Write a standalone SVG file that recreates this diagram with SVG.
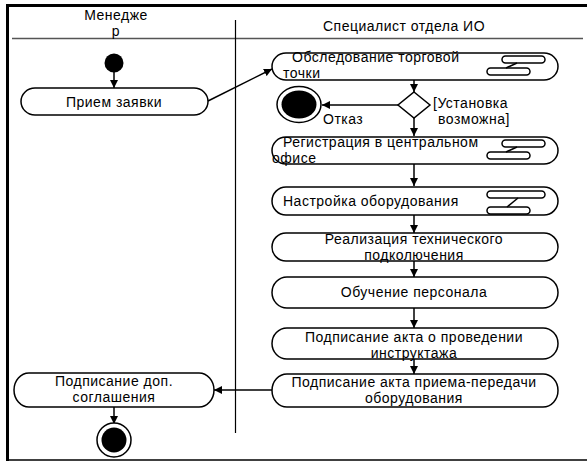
<svg xmlns="http://www.w3.org/2000/svg" width="587" height="462" viewBox="0 0 587 462">
<style>
text{font-family:"Liberation Sans",Arial,sans-serif;font-size:14px;letter-spacing:0.5px;fill:#000}
.n{fill:#fff;stroke:#000;stroke-width:1.5}
.ic{fill:none;stroke:#000;stroke-width:1.5}
.c{stroke:#000;stroke-width:1.5;fill:none;marker-end:url(#a)}
.m{text-anchor:middle}
</style>
<defs>
<marker id="a" viewBox="0 0 10 10" refX="10" refY="5" markerWidth="8" markerHeight="8" orient="auto" markerUnits="userSpaceOnUse">
<path d="M0,0 L10,5 L0,10 Z" fill="#000"/>
</marker>
</defs>
<rect width="587" height="462" fill="#fff"/>
<g id="frame">
<line x1="7.5" y1="4" x2="7.5" y2="461" stroke="#000" stroke-width="3"/>
<line x1="6" y1="5.5" x2="587" y2="5.5" stroke="#000" stroke-width="3"/>
<line x1="6" y1="460" x2="587" y2="460" stroke="#000" stroke-width="1.5"/>
<line x1="12" y1="38.5" x2="583" y2="38.5" stroke="#555" stroke-width="1.5"/>
<line x1="235.5" y1="20" x2="235.5" y2="433" stroke="#000" stroke-width="1.2"/>
<text x="116" y="20" class="m">Менедже</text>
<text x="116" y="36" class="m">р</text>
<text x="404" y="31" class="m">Специалист отдела ИО</text>
</g>
<g id="connectors">
<line class="c" x1="114" y1="72" x2="114" y2="88"/>
<line class="c" x1="208" y1="101" x2="272" y2="69"/>
<line class="c" x1="414" y1="80" x2="414" y2="92"/>
<line class="c" x1="398" y1="105" x2="322" y2="105"/>
<line class="c" x1="414" y1="118" x2="414" y2="136"/>
<line class="c" x1="414" y1="164" x2="414" y2="186"/>
<line class="c" x1="414" y1="215" x2="414" y2="233"/>
<line class="c" x1="414" y1="261" x2="414" y2="277"/>
<line class="c" x1="414" y1="308" x2="414" y2="328"/>
<line class="c" x1="414" y1="359" x2="414" y2="374"/>
<line class="c" x1="272" y1="390" x2="214" y2="390"/>
<line class="c" x1="114" y1="407" x2="114" y2="424"/>
<text x="323" y="124">Отказ</text>
<text x="433" y="108">[Установка</text>
<text x="438" y="124">возможна]</text>
</g>
<g id="start"><circle cx="114" cy="63" r="9.5" fill="#000"/></g>
<g id="priem">
<rect class="n" x="21" y="88" width="187" height="27" rx="14" ry="13.5"/>
<text x="114" y="107" class="m">Прием заявки</text>
</g>
<g id="obsl">
<rect class="n" x="272" y="53" width="286" height="27" rx="14" ry="13.5"/>
<text x="292" y="62">Обследование торговой</text>
<text x="283" y="78">точки</text>
<rect class="ic" x="502" y="56" width="43" height="7" rx="3.5"/>
<rect class="ic" x="487" y="68" width="43" height="7" rx="3.5"/>
<line class="ic" x1="517" y1="63" x2="506" y2="68"/>
</g>
<g id="decision"><polygon class="n" points="414,92 430,105 414,118 398,105"/></g>
<g id="final1">
<ellipse cx="299" cy="104.5" rx="22" ry="18" fill="#fff" stroke="#000" stroke-width="1.5"/>
<ellipse cx="299" cy="104.5" rx="17.5" ry="14" fill="#000"/>
</g>
<g id="reg">
<rect class="n" x="272" y="137" width="286" height="27" rx="14" ry="13.5"/>
<text x="283" y="147">Регистрация в центральном</text>
<text x="272" y="163">офисе</text>
<rect class="ic" x="502" y="140" width="43" height="7" rx="3.5"/>
<rect class="ic" x="487" y="152" width="43" height="7" rx="3.5"/>
<line class="ic" x1="517" y1="147" x2="506" y2="152"/>
</g>
<g id="nastr">
<rect class="n" x="272" y="187" width="286" height="28" rx="14" ry="14"/>
<text x="283" y="206">Настройка оборудования</text>
<rect class="ic" x="487" y="191" width="58" height="7" rx="3.5"/>
<rect class="ic" x="487" y="207" width="43" height="7" rx="3.5"/>
<line class="ic" x1="518" y1="198" x2="507" y2="207"/>
</g>
<g id="real">
<rect class="n" x="272" y="233" width="286" height="28" rx="14" ry="14"/>
<text x="414" y="244" class="m">Реализация технического</text>
<text x="414" y="260" class="m">подколючения</text>
</g>
<g id="obuch">
<rect class="n" x="272" y="277" width="286" height="31" rx="15" ry="15.5"/>
<text x="414" y="297" class="m">Обучение персонала</text>
</g>
<g id="akt1">
<rect class="n" x="272" y="328" width="286" height="31" rx="15" ry="15.5"/>
<text x="414" y="342" class="m">Подписание акта о проведении</text>
<text x="414" y="358" class="m">инструктажа</text>
</g>
<g id="akt2">
<rect class="n" x="272" y="374" width="286" height="33" rx="15" ry="16.5"/>
<text x="414" y="387" class="m">Подписание акта приема-передачи</text>
<text x="414" y="403" class="m">оборудования</text>
</g>
<g id="dop">
<rect class="n" x="14" y="373" width="200" height="34" rx="15" ry="17"/>
<text x="114" y="386" class="m">Подписание доп.</text>
<text x="114" y="402" class="m">соглашения</text>
</g>
<g id="final2">
<circle cx="114" cy="440" r="17" fill="#fff" stroke="#000" stroke-width="1.5"/>
<circle cx="114" cy="440" r="12.5" fill="#000"/>
</g>
</svg>
